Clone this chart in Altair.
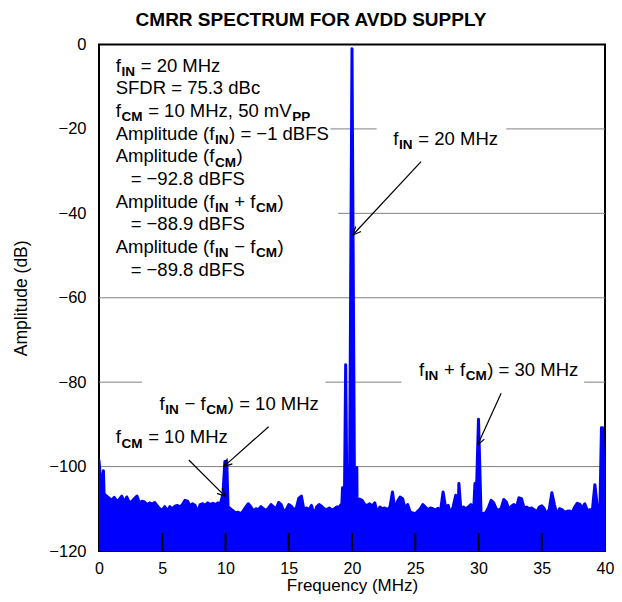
import altair as alt
import pandas as pd
import math

# ---------------- data ----------------
STEP_MHZ = 0.2
# noise floor, one value every 0.2 MHz from 0 to 40 MHz (dB)
noise_floor_db = [
    -107, -106, -106.5, -107, -107.5, -108, -107.3, -108.2, -107.8, -107,          # 0.0 - 1.8
    -108.5, -107.2, -108.6, -108.2, -107.6, -107, -108.6, -108.2, -108.4, -109,    # 2.0 - 3.8
    -108.6, -108.9, -108.5, -109.3, -110, -110.3, -109.5, -110.5, -109.5, -110,    # 4.0 - 5.8
    -109.4, -109.2, -109.6, -109, -108, -108.2, -109.3, -108.8, -109.2, -110.8,    # 6.0 - 7.8
    -109, -108.8, -109.2, -108.6, -109, -108.7, -109, -108.6, -108.8, -106.5,      # 8.0 - 9.8
    -109, -109.5, -110, -110.5, -111, -110.8, -111.2, -110.5, -109.6, -108.8,      # 10.0 - 11.8
    -109.5, -110.5, -110, -110.2, -109.5, -110, -110.4, -109.8, -109, -109.6,      # 12.0 - 13.8
    -110, -108.5, -109, -110.6, -110.2, -109, -109.4, -110.2, -109.8, -107.5,      # 14.0 - 15.8
    -107, -110.3, -109.8, -110.2, -109.2, -111.5, -109.6, -109, -109.4, -110,      # 16.0 - 17.8
    -110.2, -109.8, -110.3, -110, -109.6, -109.5, -108.8, -108.5, -108, -108,      # 18.0 - 19.8
    -108, -108, -108.5, -107.7, -108, -109, -109.2, -108.8, -109.4, -108.6,        # 20.0 - 21.8
    -111, -109.6, -110, -109.8, -110.2, -109.6, -106, -110.4, -108.2, -107.2,      # 22.0 - 23.8
    -107.6, -110, -109, -110.8, -111, -111.2, -110.6, -110, -109, -109.6,          # 24.0 - 25.8
    -110.2, -109.8, -110, -110.3, -109.9, -110.5, -106, -109.8, -109.2, -111.2,    # 26.0 - 27.8
    -109.5, -106.8, -109.5, -110, -109.6, -110, -109.6, -109, -111.5, -110,        # 28.0 - 29.8
    -111, -111, -111.2, -110.8, -109.6, -108, -108.6, -110, -110.4, -109.8,        # 30.0 - 31.8
    -107.8, -108.4, -110.2, -109.4, -109, -109.6, -107.4, -107.6, -109.8, -109.6,  # 32.0 - 33.8
    -110, -109.8, -110.2, -110.8, -109.6, -109.3, -110, -111.4, -110, -106.2,      # 34.0 - 35.8
    -109, -111.4, -110, -110.2, -110.8, -110.6, -110.5, -110.9, -109.6, -108.7,    # 36.0 - 37.8
    -108.9, -109.8, -108.8, -110.4, -110.2, -110.4, -110, -109.8, -110.2, -110,    # 38.0 - 39.8
    -109,                                                                          # 40.0
]
# spurs / tones (MHz, dB)
spike_freq_mhz = [0.0, 0.35, 9.95, 10.0, 10.1, 19.25, 19.5, 20.0, 20.38, 28.45, 29.72, 30.0, 39.2, 39.72, 39.8]
spike_level_db = [-98.6, -101.0, -98.8, -98.8, -98.8, -105.0, -75.9, -1.0, -100.2, -104.0, -104.0, -88.8, -104.3, -90.8, -90.8]

x_tick_values = [0, 5, 10, 15, 20, 25, 30, 35, 40]
y_tick_values = [0, -20, -40, -60, -80, -100, -120]
inner_tick_values = [5, 10, 15, 20, 25, 30, 35]
TITLE = "CMRR SPECTRUM FOR AVDD SUPPLY"

# ---------------- layout ----------------
W, H = 506, 506.5
LEFT = 91
PX_PER_MHZ = W / 40.0
PX_PER_DB = H / 120.0
FONT = "Liberation Sans"
MAIN_SIZE = 18.5
SUB_SIZE = 13.5
SUB_DROP_PX = 4.3
BLUE = "#0000FF"
GRID = "#808080"

# spectrum table
spec = {round(i * STEP_MHZ, 2): v for i, v in enumerate(noise_floor_db)}
for f, v in zip(spike_freq_mhz, spike_level_db):
    spec[round(f, 2)] = v
spec_df = pd.DataFrame(sorted(spec.items()), columns=["f", "db"])

# gridline segments (gaps where the reference masks them behind text)
grid_df = pd.DataFrame({
    "y":  [-20, -20, -40, -60, -80, -80, -80, -100],
    "x1": [18.3, 32.2, 18.9, 0, 0, 17.9, 38.35, 0],
    "x2": [21.95, 40, 40, 40, 3.4, 23.9, 40, 40],
})
tick_df = pd.DataFrame({"t": inner_tick_values})

# ---------------- text runs ----------------
REG_W = {' ': 278, '(': 333, ')': 333, '+': 584, ',': 278, '.': 278, '=': 584, '\u2212': 584,
         'A': 667, 'B': 667, 'C': 722, 'D': 722, 'F': 611, 'H': 722, 'M': 833, 'R': 722,
         'S': 667, 'V': 667, 'a': 556, 'c': 500, 'd': 556, 'e': 556, 'f': 278, 'i': 222,
         'l': 222, 'm': 833, 'p': 556, 't': 278, 'u': 556, 'z': 500}
BOLD_W = {'I': 278, 'N': 722, 'C': 722, 'M': 833, 'P': 667}


def run_width(s, sub):
    table = BOLD_W if sub else REG_W
    size = SUB_SIZE if sub else MAIN_SIZE
    return sum(table.get(c, 556) for c in s) / 1000.0 * size


reg_rows, sub_rows = [], []


def add_label(runs, x0, y0):
    off = 0.0
    for text, sub in runs:
        stripped = text.lstrip(' ')
        off += (len(text) - len(stripped)) * 278 / 1000.0 * (SUB_SIZE if sub else MAIN_SIZE)
        row = {"x": x0 + off / PX_PER_MHZ,
               "y": y0 - (SUB_DROP_PX / PX_PER_DB if sub else 0.0),
               "t": stripped}
        (sub_rows if sub else reg_rows).append(row)
        off += run_width(stripped, sub) + 0.6


M = "\u2212"
R, S = False, True
block = [
    [("f", R), ("IN", S), (" = 20 MHz", R)],
    [("SFDR = 75.3 dBc", R)],
    [("f", R), ("CM", S), (" = 10 MHz, 50 mV", R), ("PP", S)],
    [("Amplitude (f", R), ("IN", S), (") = " + M + "1 dBFS", R)],
    [("Amplitude (f", R), ("CM", S), (")", R)],
    [("= " + M + "92.8 dBFS", R)],
    [("Amplitude (f", R), ("IN", S), (" + f", R), ("CM", S), (")", R)],
    [("= " + M + "88.9 dBFS", R)],
    [("Amplitude (f", R), ("IN", S), (" " + M + " f", R), ("CM", S), (")", R)],
    [("= " + M + "89.8 dBFS", R)],
]
indented = {5, 7, 9}
for k, runs in enumerate(block):
    add_label(runs, 2.50 if k in indented else 1.32, -6.44 - 5.37 * k)

add_label([("f", R), ("IN", S), (" = 20 MHz", R)], 23.27, -23.8)
add_label([("f", R), ("IN", S), (" " + M + " f", R), ("CM", S), (") = 10 MHz", R)], 4.79, -86.6)
add_label([("f", R), ("CM", S), (" = 10 MHz", R)], 1.32, -94.5)
add_label([("f", R), ("IN", S), (" + f", R), ("CM", S), (") = 30 MHz", R)], 25.3, -78.5)
reg_df = pd.DataFrame(reg_rows)
sub_df = pd.DataFrame(sub_rows)
title_df = pd.DataFrame({"x": [(311 - 8 - LEFT) / PX_PER_MHZ], "y": [(44.5 - 26.0) / PX_PER_DB], "t": [TITLE]})

# arrows: (x_start, y_start, x_tip, y_tip) in data units
arrows = [
    (25.46, -27.77, 20.06, -45.14),
    (13.41, -90.55, 9.86, -100.0),
    (7.10, -98.44, 10.0, -107.1),
    (31.79, -82.64, 29.93, -94.9),
]
seg = []
HEAD_PX, HEAD_ANG = 9.0, math.radians(24)
for xs, ys, xt, yt in arrows:
    seg.append({"x": xs, "y": ys, "x2": xt, "y2": yt})
    dxp = (xs - xt) * PX_PER_MHZ
    dyp = -(ys - yt) * PX_PER_DB
    ang = math.atan2(dyp, dxp)
    for s_ in (-1, 1):
        a = ang + s_ * HEAD_ANG
        hx = xt + HEAD_PX * math.cos(a) / PX_PER_MHZ
        hy = yt - HEAD_PX * math.sin(a) / PX_PER_DB
        seg.append({"x": xt, "y": yt, "x2": hx, "y2": hy})
arrow_df = pd.DataFrame(seg)

# ---------------- chart ----------------
xscale = alt.Scale(domain=[0, 40], nice=False, zero=False)
yscale = alt.Scale(domain=[-120, 0], nice=False, zero=False)
x_axis = alt.Axis(values=x_tick_values, title="Frequency (MHz)", grid=False, domain=False, ticks=False,
                  labelFont=FONT, labelFontSize=16, labelColor="black", labelPadding=9,
                  labelFlush=False, labelOverlap=False,
                  titleFont=FONT, titleFontSize=17, titleFontWeight="normal", titleColor="black",
                  titleX=W / 2, titleY=39, titleBaseline="alphabetic", titleAlign="center")
y_axis = alt.Axis(values=y_tick_values, title="Amplitude (dB)", grid=False, domain=False, ticks=False,
                  labelFont=FONT, labelFontSize=16.5, labelColor="black", labelPadding=13,
                  labelFlush=False, labelOverlap=False,
                  titleFont=FONT, titleFontSize=17.5, titleFontWeight="normal", titleColor="black",
                  titleX=-73, titleY=H / 2, titleBaseline="alphabetic", titleAlign="center", titleAngle=270)


def X(field):
    return alt.X(field, type="quantitative", scale=xscale, axis=x_axis)


def Y(field):
    return alt.Y(field, type="quantitative", scale=yscale, axis=y_axis)


grid = alt.Chart(grid_df).mark_rule(color=GRID, strokeWidth=1).encode(
    x=X("x1"), x2="x2", y=Y("y"))

spectrum = alt.Chart(spec_df).mark_area(
    color=BLUE, clip=True, opacity=1, fillOpacity=1,
    line={"color": BLUE, "strokeWidth": 3, "strokeJoin": "round", "strokeCap": "round"},
).encode(x=X("f"), y=Y("db"), y2=alt.datum(-120))

ticks = alt.Chart(tick_df).mark_rule(color="black", strokeWidth=2).encode(
    x=X("t"), y=alt.datum(-120), y2=alt.datum(-120 + 18 / PX_PER_DB))

arrow_layer = alt.Chart(arrow_df).mark_rule(color="black", strokeWidth=1.2).encode(
    x=X("x"), y=Y("y"), x2="x2", y2="y2")

text_reg = alt.Chart(reg_df).mark_text(
    align="left", baseline="alphabetic", font=FONT, fontSize=MAIN_SIZE, color="black").encode(
    x=X("x"), y=Y("y"), text="t:N")
text_sub = alt.Chart(sub_df).mark_text(
    align="left", baseline="alphabetic", font=FONT, fontSize=SUB_SIZE, fontWeight="bold",
    color="black").encode(x=X("x"), y=Y("y"), text="t:N")
title_text = alt.Chart(title_df).mark_text(
    align="center", baseline="alphabetic", font=FONT, fontSize=19, fontWeight="bold",
    color="black").encode(x=X("x"), y=Y("y"), text="t:N")

chart = alt.layer(grid, spectrum, ticks, arrow_layer, text_reg, text_sub, title_text).properties(
    width=W, height=H,
    autosize=alt.AutoSizeParams(type="none"),
    padding={"left": LEFT, "top": 36.5, "right": 9, "bottom": 43},
    background="white",
).configure_view(stroke="black", strokeWidth=2)

chart.save("out.html", embed_options={"renderer": "svg", "actions": False})
